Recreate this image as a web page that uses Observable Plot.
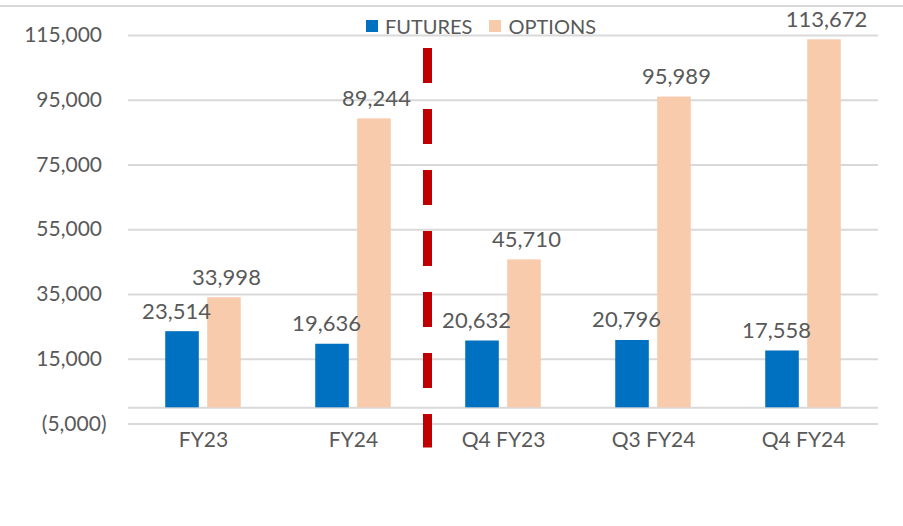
<!DOCTYPE html>
<html>
<head>
<meta charset="utf-8">
<script src="https://cdn.jsdelivr.net/npm/d3@7"></script>
<script src="https://cdn.jsdelivr.net/npm/@observablehq/plot@0.6"></script>
<style>
  html, body { margin: 0; padding: 0; background: #fff; }
  #wrap { position: relative; width: 903px; height: 526px; font-family: Lato, "Open Sans", sans-serif; color: #595959; }
  #topline { position: absolute; left: 0; top: 5px; width: 903px; border-top: 2px solid #d9d9d9; }
  #legend { position: absolute; left: 366px; top: 16px; display: flex; align-items: center; font-size: 20px; line-height: 20px; z-index: 2; }
  .item { display: flex; align-items: center; margin-right: 17px; }
  .sw { width: 12px; height: 12px; margin-right: 7px; }
  #chart svg { display: block; }
</style>
</head>
<body>
<div id="wrap">
  <div id="topline"></div>
  <div id="legend"></div>
  <div id="chart"></div>
</div>
<script>
const categories = ["FY23", "FY24", "Q4 FY23", "Q3 FY24", "Q4 FY24"];
const series = ["FUTURES", "OPTIONS"];
const futures = [23514, 19636, 20632, 20796, 17558];
const options = [33998, 89244, 45710, 95989, 113672];
const seriesColors = ["#0070C0", "#F8CBAD"];
const yTicks = [-5000, 15000, 35000, 55000, 75000, 95000, 115000];
const dividerCategory = "Q4 FY23";
const dividerTop = 111000;
const dividerBottom = -12400;

const rows = [];
categories.forEach((c, i) => {
  rows.push({cat: c, series: "FUTURES", value: futures[i]});
  rows.push({cat: c, series: "OPTIONS", value: options[i]});
});

const W = 903, H = 526, mL = 128, mR = 25, mT = 35, mB = 102.5;
const pInner = 0.2, pOuter = 0.887;
const step = (W - mL - mR) / categories.length;
const inner = d3.scaleBand(series, [0, step]).paddingInner(pInner).paddingOuter(pOuter);
const dividerDx = -(inner("FUTURES") + inner.bandwidth() / 2) - 1;

const fmt = d3.format(",");
const yFmt = d => d < 0 ? `(${fmt(-d)})` : fmt(d) + "\u2008";

// legend
const legend = document.getElementById("legend");
series.forEach((s, i) => {
  const it = document.createElement("div");
  it.className = "item";
  const sw = document.createElement("div");
  sw.className = "sw";
  sw.style.background = seriesColors[i];
  const tx = document.createElement("span");
  tx.textContent = s;
  it.appendChild(sw); it.appendChild(tx);
  legend.appendChild(it);
});

const plot = Plot.plot({
  width: W,
  height: H,
  marginLeft: mL,
  marginRight: mR,
  marginTop: mT,
  marginBottom: mB,
  style: {fontFamily: "Lato, 'Open Sans', sans-serif", fontSize: "21px", color: "#595959", background: "transparent", overflow: "visible"},
  fx: {domain: categories, padding: 0, axis: "bottom", tickSize: 0, tickPadding: 8, label: null},
  x: {domain: series, paddingInner: pInner, paddingOuter: pOuter, round: false, axis: null},
  y: {domain: [-5000, 115000], ticks: yTicks, tickSize: 0, tickPadding: 22, tickFormat: yFmt, label: null},
  color: {domain: series, range: seriesColors},
  marks: [
    Plot.ruleY([...yTicks, 0], {stroke: "#d9d9d9", strokeWidth: 2}),
    Plot.barY(rows, {fx: "cat", x: "series", y: "value", fill: "series"}),
    Plot.text(rows.filter(d => d.series === "FUTURES"), {fx: "cat", x: "series", y: "value", text: d => fmt(d.value), lineAnchor: "bottom", dy: -13, dx: -6, fontSize: 22, fill: "#595959"}),
    Plot.text(rows.filter(d => d.series === "OPTIONS"), {fx: "cat", x: "series", y: "value", text: d => fmt(d.value), lineAnchor: "bottom", dy: -13, dx: 2, fontSize: 22, fill: "#595959"}),
    Plot.ruleX([{cat: dividerCategory, series: "FUTURES", top: dividerTop, bottom: dividerBottom}], {fx: "cat", x: "series", y1: "top", y2: "bottom", dx: dividerDx, stroke: "#C00000", strokeWidth: 9, strokeDasharray: "35,26"})
  ]
});
document.getElementById("chart").appendChild(plot);
</script>
</body>
</html>
